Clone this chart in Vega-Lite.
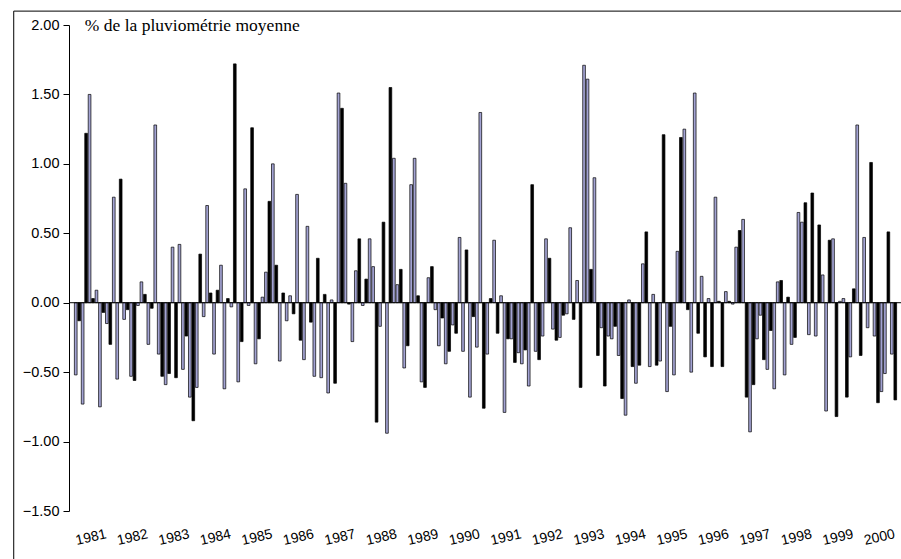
{
  "$schema": "https://vega.github.io/schema/vega-lite/v6.json",
  "width": 832,
  "height": 486,
  "autosize": {"type": "none"},
  "padding": {"left": 69, "top": 25, "right": 0, "bottom": 48},
  "background": "white",
  "config": {"view": {"stroke": null}},
  "layer": [
    {
      "data": {"values": [
        {"i":0,"v":-0.52,"s":"L"},{"i":1,"v":-0.13,"s":"B"},{"i":2,"v":-0.73,"s":"L"},{"i":3,"v":1.22,"s":"B"},{"i":4,"v":1.50,"s":"L"},{"i":5,"v":0.03,"s":"B"},{"i":6,"v":0.09,"s":"L"},{"i":7,"v":-0.75,"s":"L"},{"i":8,"v":-0.07,"s":"B"},{"i":9,"v":-0.15,"s":"L"},
        {"i":10,"v":-0.30,"s":"B"},{"i":11,"v":0.76,"s":"L"},{"i":12,"v":-0.55,"s":"L"},{"i":13,"v":0.89,"s":"B"},{"i":14,"v":-0.12,"s":"L"},{"i":15,"v":-0.05,"s":"B"},{"i":16,"v":-0.53,"s":"L"},{"i":17,"v":-0.56,"s":"B"},{"i":18,"v":-0.02,"s":"L"},{"i":19,"v":0.15,"s":"L"},
        {"i":20,"v":0.06,"s":"B"},{"i":21,"v":-0.30,"s":"L"},{"i":22,"v":-0.04,"s":"B"},{"i":23,"v":1.28,"s":"L"},{"i":24,"v":-0.37,"s":"L"},{"i":25,"v":-0.53,"s":"B"},{"i":26,"v":-0.59,"s":"L"},{"i":27,"v":-0.51,"s":"B"},{"i":28,"v":0.40,"s":"L"},{"i":29,"v":-0.54,"s":"B"},
        {"i":30,"v":0.42,"s":"L"},{"i":31,"v":-0.48,"s":"L"},{"i":32,"v":-0.24,"s":"B"},{"i":33,"v":-0.68,"s":"L"},{"i":34,"v":-0.85,"s":"B"},{"i":35,"v":-0.61,"s":"L"},{"i":36,"v":0.35,"s":"B"},{"i":37,"v":-0.10,"s":"L"},{"i":38,"v":0.70,"s":"L"},{"i":39,"v":0.07,"s":"B"},
        {"i":40,"v":-0.37,"s":"L"},{"i":41,"v":0.09,"s":"B"},{"i":42,"v":0.27,"s":"L"},{"i":43,"v":-0.62,"s":"L"},{"i":44,"v":0.03,"s":"B"},{"i":45,"v":-0.03,"s":"L"},{"i":46,"v":1.72,"s":"B"},{"i":47,"v":-0.57,"s":"L"},{"i":48,"v":-0.28,"s":"B"},{"i":49,"v":0.82,"s":"L"},
        {"i":50,"v":-0.02,"s":"L"},{"i":51,"v":1.26,"s":"B"},{"i":52,"v":-0.44,"s":"L"},{"i":53,"v":-0.26,"s":"B"},{"i":54,"v":0.04,"s":"L"},{"i":55,"v":0.22,"s":"L"},{"i":56,"v":0.73,"s":"B"},{"i":57,"v":1.00,"s":"L"},{"i":58,"v":0.27,"s":"B"},{"i":59,"v":-0.42,"s":"L"},
        {"i":60,"v":0.07,"s":"B"},{"i":61,"v":-0.13,"s":"L"},{"i":62,"v":0.05,"s":"L"},{"i":63,"v":-0.08,"s":"B"},{"i":64,"v":0.78,"s":"L"},{"i":65,"v":-0.27,"s":"B"},{"i":66,"v":-0.41,"s":"L"},{"i":67,"v":0.55,"s":"L"},{"i":68,"v":-0.14,"s":"B"},{"i":69,"v":-0.53,"s":"L"},
        {"i":70,"v":0.32,"s":"B"},{"i":71,"v":-0.54,"s":"L"},{"i":72,"v":0.06,"s":"B"},{"i":73,"v":-0.65,"s":"L"},{"i":74,"v":0.02,"s":"L"},{"i":75,"v":-0.58,"s":"B"},{"i":76,"v":1.51,"s":"L"},{"i":77,"v":1.40,"s":"B"},{"i":78,"v":0.86,"s":"L"},{"i":79,"v":-0.01,"s":"B"},
        {"i":80,"v":-0.28,"s":"L"},{"i":81,"v":0.23,"s":"L"},{"i":82,"v":0.46,"s":"B"},{"i":83,"v":-0.02,"s":"L"},{"i":84,"v":0.17,"s":"B"},{"i":85,"v":0.46,"s":"L"},{"i":86,"v":0.26,"s":"L"},{"i":87,"v":-0.86,"s":"B"},{"i":88,"v":-0.17,"s":"L"},{"i":89,"v":0.58,"s":"B"},
        {"i":90,"v":-0.94,"s":"L"},{"i":91,"v":1.55,"s":"B"},{"i":92,"v":1.04,"s":"L"},{"i":93,"v":0.13,"s":"L"},{"i":94,"v":0.24,"s":"B"},{"i":95,"v":-0.47,"s":"L"},{"i":96,"v":-0.31,"s":"B"},{"i":97,"v":0.85,"s":"L"},{"i":98,"v":1.04,"s":"L"},{"i":99,"v":0.05,"s":"B"},
        {"i":100,"v":-0.57,"s":"L"},{"i":101,"v":-0.61,"s":"B"},{"i":102,"v":0.18,"s":"L"},{"i":103,"v":0.26,"s":"B"},{"i":104,"v":-0.05,"s":"L"},{"i":105,"v":-0.31,"s":"L"},{"i":106,"v":-0.11,"s":"B"},{"i":107,"v":-0.44,"s":"L"},{"i":108,"v":-0.35,"s":"B"},{"i":109,"v":-0.16,"s":"L"},
        {"i":110,"v":-0.22,"s":"B"},{"i":111,"v":0.47,"s":"L"},{"i":112,"v":-0.35,"s":"L"},{"i":113,"v":0.38,"s":"B"},{"i":114,"v":-0.68,"s":"L"},{"i":115,"v":-0.10,"s":"B"},{"i":116,"v":-0.32,"s":"L"},{"i":117,"v":1.37,"s":"L"},{"i":118,"v":-0.76,"s":"B"},{"i":119,"v":-0.37,"s":"L"},
        {"i":120,"v":0.03,"s":"B"},{"i":121,"v":0.45,"s":"L"},{"i":122,"v":-0.22,"s":"B"},{"i":123,"v":0.05,"s":"L"},{"i":124,"v":-0.79,"s":"L"},{"i":125,"v":-0.26,"s":"B"},{"i":126,"v":-0.26,"s":"L"},{"i":127,"v":-0.43,"s":"B"},{"i":128,"v":-0.36,"s":"L"},{"i":129,"v":-0.44,"s":"L"},
        {"i":130,"v":-0.34,"s":"B"},{"i":131,"v":-0.60,"s":"L"},{"i":132,"v":0.85,"s":"B"},{"i":133,"v":-0.35,"s":"L"},{"i":134,"v":-0.41,"s":"B"},{"i":135,"v":-0.24,"s":"L"},{"i":136,"v":0.46,"s":"L"},{"i":137,"v":0.32,"s":"B"},{"i":138,"v":-0.19,"s":"L"},{"i":139,"v":-0.27,"s":"B"},
        {"i":140,"v":-0.25,"s":"L"},{"i":141,"v":-0.09,"s":"B"},{"i":142,"v":-0.08,"s":"L"},{"i":143,"v":0.54,"s":"L"},{"i":144,"v":-0.12,"s":"B"},{"i":145,"v":0.16,"s":"L"},{"i":146,"v":-0.61,"s":"B"},{"i":147,"v":1.71,"s":"L"},{"i":148,"v":1.61,"s":"L"},{"i":149,"v":0.24,"s":"B"},
        {"i":150,"v":0.90,"s":"L"},{"i":151,"v":-0.38,"s":"B"},{"i":152,"v":-0.18,"s":"L"},{"i":153,"v":-0.60,"s":"B"},{"i":154,"v":-0.24,"s":"L"},{"i":155,"v":-0.26,"s":"L"},{"i":156,"v":-0.17,"s":"B"},{"i":157,"v":-0.38,"s":"L"},{"i":158,"v":-0.69,"s":"B"},{"i":159,"v":-0.81,"s":"L"},
        {"i":160,"v":0.02,"s":"L"},{"i":161,"v":-0.46,"s":"B"},{"i":162,"v":-0.58,"s":"L"},{"i":163,"v":-0.45,"s":"B"},{"i":164,"v":0.28,"s":"L"},{"i":165,"v":0.51,"s":"B"},{"i":166,"v":-0.46,"s":"L"},{"i":167,"v":0.06,"s":"L"},{"i":168,"v":-0.45,"s":"B"},{"i":169,"v":-0.42,"s":"L"},
        {"i":170,"v":1.21,"s":"B"},{"i":171,"v":-0.64,"s":"L"},{"i":172,"v":-0.17,"s":"B"},{"i":173,"v":-0.52,"s":"L"},{"i":174,"v":0.37,"s":"L"},{"i":175,"v":1.19,"s":"B"},{"i":176,"v":1.25,"s":"L"},{"i":177,"v":-0.05,"s":"B"},{"i":178,"v":-0.50,"s":"L"},{"i":179,"v":1.51,"s":"L"},
        {"i":180,"v":-0.22,"s":"B"},{"i":181,"v":0.19,"s":"L"},{"i":182,"v":-0.39,"s":"B"},{"i":183,"v":0.03,"s":"L"},{"i":184,"v":-0.46,"s":"B"},{"i":185,"v":0.76,"s":"L"},{"i":186,"v":0.01,"s":"B"},{"i":187,"v":-0.46,"s":"B"},{"i":188,"v":0.08,"s":"L"},{"i":189,"v":0.01,"s":"B"},
        {"i":190,"v":-0.01,"s":"L"},{"i":191,"v":0.40,"s":"L"},{"i":192,"v":0.52,"s":"B"},{"i":193,"v":0.60,"s":"L"},{"i":194,"v":-0.68,"s":"B"},{"i":195,"v":-0.93,"s":"L"},{"i":196,"v":-0.59,"s":"B"},{"i":197,"v":-0.26,"s":"L"},{"i":198,"v":-0.09,"s":"L"},{"i":199,"v":-0.41,"s":"B"},
        {"i":200,"v":-0.48,"s":"L"},{"i":201,"v":-0.20,"s":"B"},{"i":202,"v":-0.62,"s":"L"},{"i":203,"v":0.15,"s":"L"},{"i":204,"v":0.16,"s":"B"},{"i":205,"v":-0.52,"s":"L"},{"i":206,"v":0.04,"s":"B"},{"i":207,"v":-0.30,"s":"L"},{"i":208,"v":-0.25,"s":"B"},{"i":209,"v":0.65,"s":"L"},
        {"i":210,"v":0.58,"s":"L"},{"i":211,"v":0.72,"s":"B"},{"i":212,"v":-0.23,"s":"L"},{"i":213,"v":0.79,"s":"B"},{"i":214,"v":-0.24,"s":"L"},{"i":215,"v":0.56,"s":"B"},{"i":216,"v":0.20,"s":"L"},{"i":217,"v":-0.78,"s":"L"},{"i":218,"v":0.45,"s":"B"},{"i":219,"v":0.46,"s":"L"},
        {"i":220,"v":-0.82,"s":"B"},{"i":221,"v":0.01,"s":"L"},{"i":222,"v":0.03,"s":"L"},{"i":223,"v":-0.68,"s":"B"},{"i":224,"v":-0.39,"s":"L"},{"i":225,"v":0.10,"s":"B"},{"i":226,"v":1.28,"s":"L"},{"i":227,"v":-0.38,"s":"B"},{"i":228,"v":0.47,"s":"L"},{"i":229,"v":-0.18,"s":"L"},
        {"i":230,"v":1.01,"s":"B"},{"i":231,"v":-0.24,"s":"L"},{"i":232,"v":-0.72,"s":"B"},{"i":233,"v":-0.64,"s":"L"},{"i":234,"v":-0.51,"s":"L"},{"i":235,"v":0.51,"s":"B"},{"i":236,"v":-0.37,"s":"L"},{"i":237,"v":-0.70,"s":"B"}
      ]},
      "mark": {"type": "bar", "size": 2.7, "stroke": "black", "strokeWidth": 0.7, "clip": true},
      "encoding": {
        "x": {"field": "i", "type": "quantitative",
          "scale": {"domain": [-0.5, 237.21], "nice": false, "zero": false},
          "axis": {"values": [4.3, 16.3, 28.3, 40.3, 52.3, 64.3, 76.3, 88.3, 100.3, 112.3, 124.3, 136.3, 148.3, 160.3, 172.3, 184.3, 196.3, 208.3, 220.3, 232.3],
            "labelExpr": "'' + (1981 + floor((datum.value + 1) / 12))",
            "domain": false, "ticks": false, "tickSize": 0, "grid": false, "title": null,
            "labelAngle": -13, "labelAlign": "center", "labelBaseline": "middle", "labelPadding": 26,
            "labelFont": "Liberation Sans", "labelFontSize": 14, "labelColor": "black",
            "labelFlush": false, "labelOverlap": false, "labelBound": false}},
        "y": {"field": "v", "type": "quantitative", "stack": null,
          "scale": {"domain": [-1.5, 2], "nice": false},
          "axis": {"values": [-1.5, -1, -0.5, 0, 0.5, 1, 1.5, 2], "format": ".2f", "grid": false, "title": null,
            "domainColor": "black", "tickColor": "black", "tickSize": 6, "labelPadding": 4,
            "labelFont": "Liberation Sans", "labelFontSize": 14.5, "labelColor": "black"}},
        "color": {"field": "s", "type": "nominal", "scale": {"domain": ["L", "B"], "range": ["#a3a3d3", "#000000"]}, "legend": null}
      }
    },
    {
      "data": {"values": [{}]},
      "mark": {"type": "rule", "color": "black", "strokeWidth": 1},
      "encoding": {"y": {"datum": 0, "type": "quantitative"}}
    },
    {
      "data": {"values": [{"t": "% de la pluviométrie moyenne"}]},
      "mark": {"type": "text", "align": "left", "baseline": "alphabetic", "font": "Liberation Serif", "fontSize": 17.5, "color": "black", "clip": false},
      "encoding": {
        "text": {"field": "t"},
        "x": {"datum": 2.64, "type": "quantitative"},
        "y": {"datum": 1.959, "type": "quantitative"}
      }
    },
    {
      "data": {"values": [{}]},
      "mark": {"type": "rect", "fill": null, "stroke": "black", "strokeWidth": 1, "clip": false},
      "encoding": {
        "x": {"datum": -17.93, "type": "quantitative", "scale": {"domain": [-0.5, 237.21], "nice": false, "zero": false}},
        "x2": {"datum": 260},
        "y": {"datum": 2.1, "type": "quantitative", "scale": {"domain": [-1.5, 2], "nice": false}},
        "y2": {"datum": -1.95}
      }
    }
  ]
}
